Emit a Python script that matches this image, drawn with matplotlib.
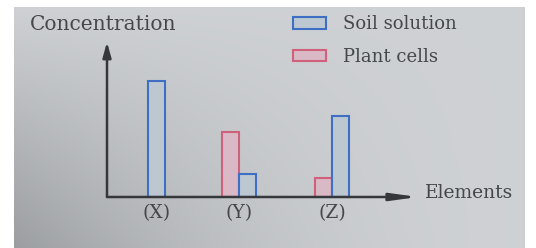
import numpy as np
import matplotlib
matplotlib.use("Agg")
import matplotlib.pyplot as plt

# ---------------------------------------------------------------------------
# Data (arbitrary concentration units)
# ---------------------------------------------------------------------------
categories = ["(X)", "(Y)", "(Z)"]
soil_solution = [7.5, 1.5, 5.2]
plant_cells = [0.0, 4.2, 1.2]

# ---------------------------------------------------------------------------
# Style
# ---------------------------------------------------------------------------
TEXT = "#45474a"
AXIS = "#35373a"
SOIL_EDGE, SOIL_FILL = "#3f6fc4", "#bcc7d2"
PLANT_EDGE, PLANT_FILL = "#d0607c", "#d8b9c5"
plt.rcParams.update({"font.family": "DejaVu Serif"})

W, H = 536, 248
fig = plt.figure(figsize=(W / 100, H / 100), dpi=100, facecolor="white")

# photo-like paper background (light overall, darker toward bottom-left)
bg = fig.add_axes([14 / W, 0, (525 - 14) / W, (H - 7) / H])
yy, xx = np.mgrid[0:1:100j, 0:1:200j]
shade = 0.82 - 0.20 * (1 - xx) ** 2 * (1 - yy)
bg.imshow(np.dstack([shade - 0.01, shade, shade + 0.01]).clip(0, 1),
          aspect="auto", origin="lower", extent=[0, 1, 0, 1])
bg.axis("off")

# main axes: spans from y-axis (x=107px) to x-arrow tip, baseline to y-arrow tip
ax = fig.add_axes([107 / W, (H - 197) / H, (418 - 107) / W, (197 - 42) / H])
ax.patch.set_alpha(0)
for s in ax.spines.values():
    s.set_visible(False)
ax.set_xticks([])
ax.set_yticks([])

x_pos = np.array([0.0, 0.94, 2.0])
width = 0.195
ax.set_xlim(-0.57, 2.98)
ax.set_ylim(0, 10)

for i, (xc, soil, plant) in enumerate(zip(x_pos, soil_solution, plant_cells)):
    if plant > 0:
        ax.bar(xc - width / 2, plant, width, color=PLANT_FILL, edgecolor=PLANT_EDGE,
               lw=1.5, label="Plant cells" if i == 1 else None, zorder=3)
        soil_x = xc + width / 2
    else:
        soil_x = xc
    ax.bar(soil_x, soil, width, color=SOIL_FILL, edgecolor=SOIL_EDGE,
           lw=1.5, label="Soil solution" if i == 0 else None, zorder=3)
    ax.text(xc, -0.45, categories[i], ha="center", va="top", fontsize=13.5,
            color=TEXT)

# arrowed axes
ax.annotate("", xy=(0, 1.0), xytext=(0, 0), xycoords="axes fraction",
            arrowprops=dict(arrowstyle="-|>,head_length=0.9,head_width=0.25",
                            color=AXIS, lw=1.8, shrinkA=0, shrinkB=0))
ax.annotate("", xy=(1.0, 0), xytext=(0, 0), xycoords="axes fraction",
            arrowprops=dict(arrowstyle="-|>,head_length=1.6,head_width=0.22",
                            color=AXIS, lw=1.8, shrinkA=0, shrinkB=0))

fig.text(30 / W, 1 - 25 / H, "Concentration", fontsize=14.5, color=TEXT,
         ha="left", va="center")
fig.text(425 / W, 1 - 193 / H, "Elements", fontsize=13.5, color=TEXT,
         ha="left", va="center")

handles, labels = ax.get_legend_handles_labels()
order = [labels.index("Soil solution"), labels.index("Plant cells")]
fig.legend([handles[k] for k in order], [labels[k] for k in order],
           loc="upper left", bbox_to_anchor=(277 / W, 1 + 1 / H),
           frameon=False, fontsize=13, labelcolor=TEXT,
           handlelength=1.8, handleheight=0.6, handletextpad=0.95,
           labelspacing=0.8)

fig.savefig("out.png", dpi=100, facecolor="white")
